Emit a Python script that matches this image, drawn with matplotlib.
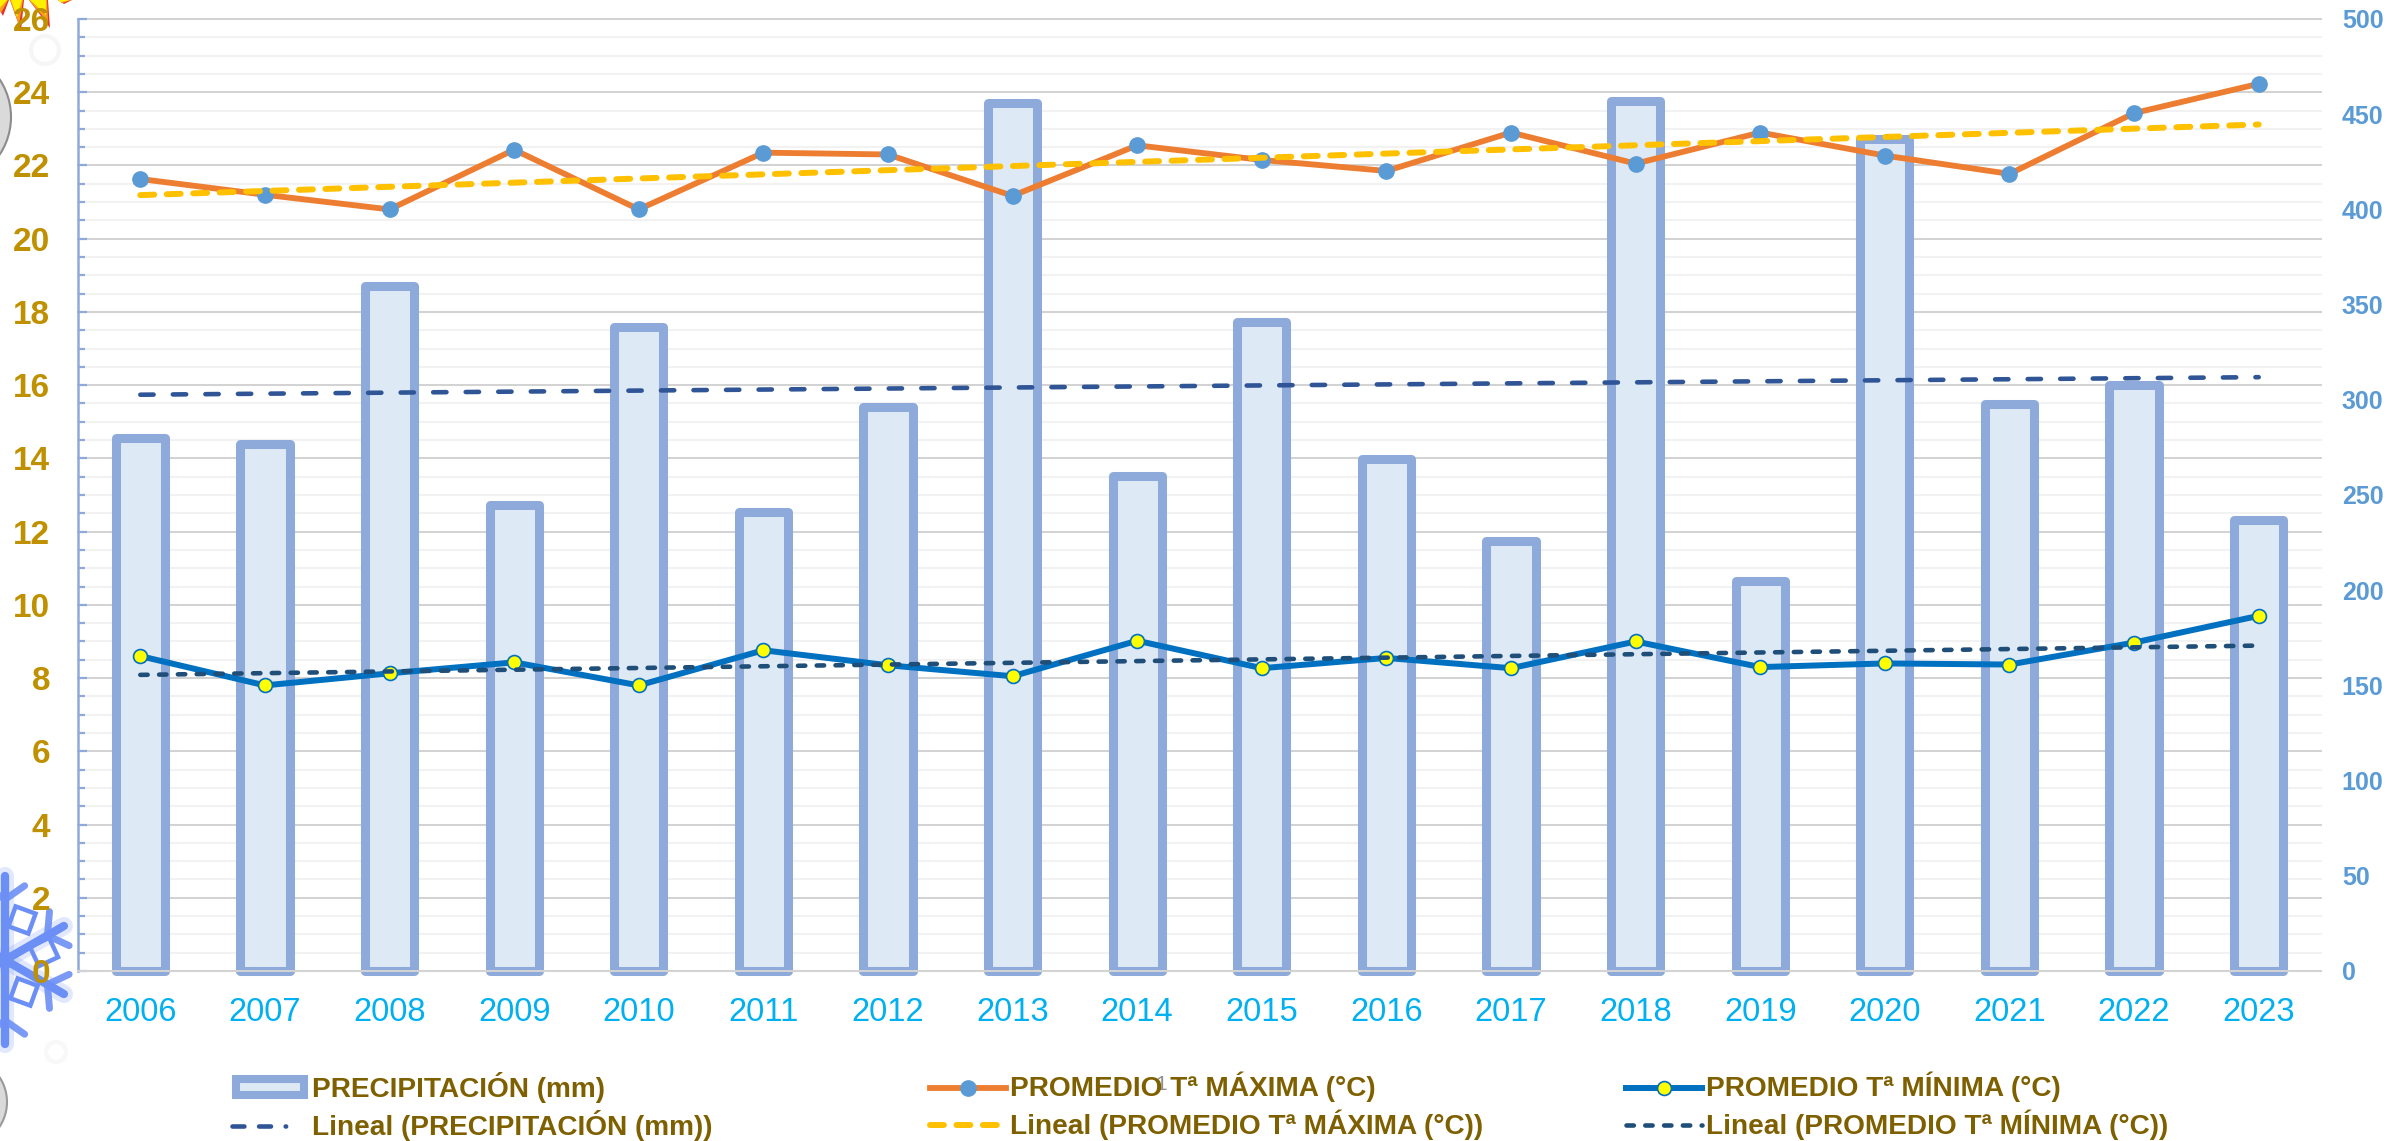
# %%
import numpy as np
import matplotlib.pyplot as plt
from matplotlib.lines import Line2D
from matplotlib.patches import Patch, Circle, Polygon

plt.rcParams["font.family"] = ["Liberation Sans", "DejaVu Sans"]

# %%
years = [2006, 2007, 2008, 2009, 2010, 2011, 2012, 2013, 2014, 2015, 2016, 2017, 2018, 2019, 2020, 2021, 2022, 2023]
precip = [280, 277, 360, 245, 338, 241, 296, 456, 260, 341, 269, 226, 457, 205, 437, 298, 308, 237]
t_max = [21.63, 21.2, 20.8, 22.43, 20.8, 22.35, 22.3, 21.17, 22.55, 22.15, 21.85, 22.9, 22.05, 22.9, 22.27, 21.77, 23.43, 24.23]
t_min = [8.6, 7.8, 8.13, 8.43, 7.8, 8.76, 8.35, 8.05, 9.02, 8.27, 8.55, 8.27, 9.0, 8.3, 8.4, 8.37, 8.97, 9.7]

left_ticks = list(range(0, 27, 2))
right_ticks = list(range(0, 501, 50))

W, H = 2407, 1141
x = np.arange(len(years))

EDGE = "#8EAADB"
FILL = "#DEE9F6"
# dash patterns in line widths, with round caps
DASH_PRECIP = (2.9, 4.2)
DASH_MAX = (2.33, 2.1)
DASH_MIN = (1.6, 2.5)


def trend(values):
    # same thing as the "Lineal" trendline in the spreadsheet
    slope, intercept = np.polyfit(x, values, 1)
    return slope * x + intercept


# %%
fig = plt.figure(figsize=(W / 100, H / 100), dpi=100)
ax = fig.add_axes([78 / W, 1 - 971 / H, (2321 - 78) / W, (971 - 19) / H])
ax2 = ax.twinx()
ax.set_zorder(2)
ax.patch.set_visible(False)
ax2.set_zorder(1)

ax.set_xlim(-0.5, len(years) - 0.5)
ax.set_ylim(0, 26)
ax2.set_ylim(0, 500)

# grid
ax.set_yticks(left_ticks)
ax.set_yticks(np.arange(0, 26.5, 0.5), minor=True)
ax2.set_yticks(right_ticks)
for v in np.arange(0, 26.5, 0.5):
    is_major = v % 2 == 0
    ax2.axhline(v / 26 * 500, color="#D3D3D3" if is_major else "#F2F2F2", lw=1.45, zorder=0, clip_on=False)

# bars
ax2.bar(x, precip, width=0.395, color=FILL, edgecolor=EDGE, linewidth=6.5, zorder=2, clip_on=False, joinstyle="round")
ax2.plot(x, trend(precip), color="#2F5597", lw=3.3, dashes=DASH_PRECIP, dash_capstyle="round", zorder=3)

# lines
ax.plot(x, t_max, color="#ED7D31", lw=4.2, marker="o", ms=11, mfc="#5B9BD5", mec="#5B9BD5", zorder=4)
ax.plot(x, trend(t_max), color="#FFC000", lw=4.3, dashes=DASH_MAX, dash_capstyle="round", zorder=5)
ax.plot(x, t_min, color="#0070C0", lw=4.3, marker="o", ms=10, mfc="#FFFF00", mec="#0070C0", mew=1.2, zorder=4)
ax.plot(x, trend(t_min), color="#1F4E79", lw=3.3, dashes=DASH_MIN, dash_capstyle="round", zorder=5)

# axes style
for a in (ax, ax2):
    a.spines["top"].set_visible(False)
    a.spines["right"].set_visible(False)
ax.spines["bottom"].set_color("#D3D3D3")
ax.spines["bottom"].set_linewidth(1.45)
ax.spines["left"].set_color(EDGE)
ax.spines["left"].set_linewidth(1.8)
ax2.spines["left"].set_visible(False)
ax2.spines["bottom"].set_visible(False)

ax.set_xticks(x)
ax.set_xticklabels(years, fontsize=23.5, color="#00B0F0")
ax.tick_params(axis="x", length=0, pad=19)
ax.tick_params(axis="y", which="major", direction="in", length=6.5, width=1.6, color=EDGE,
               labelsize=24, labelcolor="#BF9000", pad=20)
ax.tick_params(axis="y", which="minor", direction="in", length=5, width=1.6, color=EDGE)
for t in ax.get_yticklabels():
    t.set_fontweight("bold")
ax2.tick_params(axis="y", length=0, labelsize=18, labelcolor="#5B9BD5", pad=15)
for t in ax2.get_yticklabels():
    t.set_fontweight("bold")

# %%
# pictures pasted at the left edge of the original sheet
bg = fig.add_axes([0, 0, 1, 1], zorder=0)
bg.set_xlim(0, W)
bg.set_ylim(H, 0)
bg.axis("off")
bg.add_patch(Circle((-57, 117), 68, fc="#DADADA", ec="#8C8C8C", lw=1.5))
bg.add_patch(Circle((-38, 1102), 45, fc="#DADADA", ec="#9A9A9A", lw=1.5))
bg.add_patch(Circle((45, 50), 14, fc="none", ec="#F6F6F6", lw=3))
bg.add_patch(Circle((56, 1052), 10, fc="none", ec="#F8F8F8", lw=3))

# sun rays, clipped by the top of the figure
for x0, x1, tip_x, tip_y in [(-6, 9, 3, 16), (10, 24, 21, 31), (29, 48, 50, 28), (58, 72, 64, 4)]:
    bg.add_patch(Polygon([(x0, 0), (x1, 0), (tip_x, tip_y)], fc="#E5352B", ec="none"))
    bg.add_patch(Polygon([(x0, 0), (x1 - 1, 0), (tip_x - 2, tip_y * 0.8)], fc="#F9A11B", ec="none"))
    bg.add_patch(Polygon([(x0 + 1, 0), (x1 - 2, 0), (tip_x - 4, tip_y * 0.55)], fc="#FFF000", ec="none"))

flake = "#6C8FF5"
cx, cy = 5, 960
for ang_deg in [30, 90, 150, 210, 270, 330]:
    ang = np.deg2rad(ang_deg)
    dx, dy = np.cos(ang), np.sin(ang)
    size = 84 if ang_deg in (90, 270) else 68
    ends_x, ends_y = [cx, cx + size * dx], [cy, cy + size * dy]
    bg.plot(ends_x, ends_y, color=flake, lw=13, alpha=0.2, solid_capstyle="round")
    bg.plot(ends_x, ends_y, color=flake, lw=6, solid_capstyle="round")
    # side branches near the tip
    bx, by = cx + 0.72 * size * dx, cy + 0.72 * size * dy
    for off in (-55, 55):
        a2 = ang + np.deg2rad(off)
        bg.plot([bx, bx + 24 * np.cos(a2)], [by, by + 24 * np.sin(a2)], color=flake, lw=5, solid_capstyle="round", alpha=0.9)
for mx, my, rot in [(22, 920, 20), (44, 952, -25), (24, 992, 20)]:
    # small squares between the arms
    ang = np.deg2rad(rot)
    square = [(mx + 15 * np.cos(ang + k * np.pi / 2 + np.pi / 4), my + 15 * np.sin(ang + k * np.pi / 2 + np.pi / 4)) for k in range(4)]
    bg.add_patch(Polygon(square, fc="white", ec=flake, lw=3.2))

# %%
legend_opts = {"fontsize": 20.2, "frameon": False, "labelspacing": 0.26, "borderpad": 0, "borderaxespad": 0,
               "handletextpad": 0.15, "handlelength": 2.7, "handleheight": 0.5}
col_1 = [Patch(fc=FILL, ec=EDGE, lw=5.8, joinstyle="round", label="PRECIPITACIÓN (mm)"),
         Line2D([], [], color="#2F5597", lw=3.3, dashes=(2.6, 3.2, 2.6, 3.2, 0.1, 9), dash_capstyle="round", label="Lineal (PRECIPITACIÓN (mm))")]
col_2 = [Line2D([], [], color="#ED7D31", lw=4.2, marker="o", ms=11, mfc="#5B9BD5", mec="#5B9BD5", label="PROMEDIO Tª MÁXIMA (°C)"),
         Line2D([], [], color="#FFC000", lw=4.3, dashes=DASH_MAX, dash_capstyle="round", label="Lineal (PROMEDIO Tª MÁXIMA (°C))")]
col_3 = [Line2D([], [], color="#0070C0", lw=4.3, marker="o", ms=10, mfc="#FFFF00", mec="#0070C0", mew=1.2, label="PROMEDIO Tª MÍNIMA (°C)"),
         Line2D([], [], color="#1F4E79", lw=3.3, dashes=DASH_MIN, dash_capstyle="round", label="Lineal (PROMEDIO Tª MÍNIMA (°C))")]
for handles, left in [(col_1, 232), (col_2, 930), (col_3, 1626)]:
    leg = fig.legend(handles=handles, loc="upper left", bbox_to_anchor=(left / W, 1 - 1072 / H), **legend_opts)
    for t in leg.get_texts():
        t.set_color("#7F6000")
        t.set_fontweight("bold")
    for p in leg.get_patches():
        # keep the thick edge inside the handle box
        p.set_x(p.get_x() + 2.9)
        p.set_width(p.get_width() - 5.8)

fig.text(1161 / W, 1 - 1084 / H, "1", fontsize=15, color="#909090", ha="center", va="center", zorder=5)

fig.savefig("out.png", dpi=100)
